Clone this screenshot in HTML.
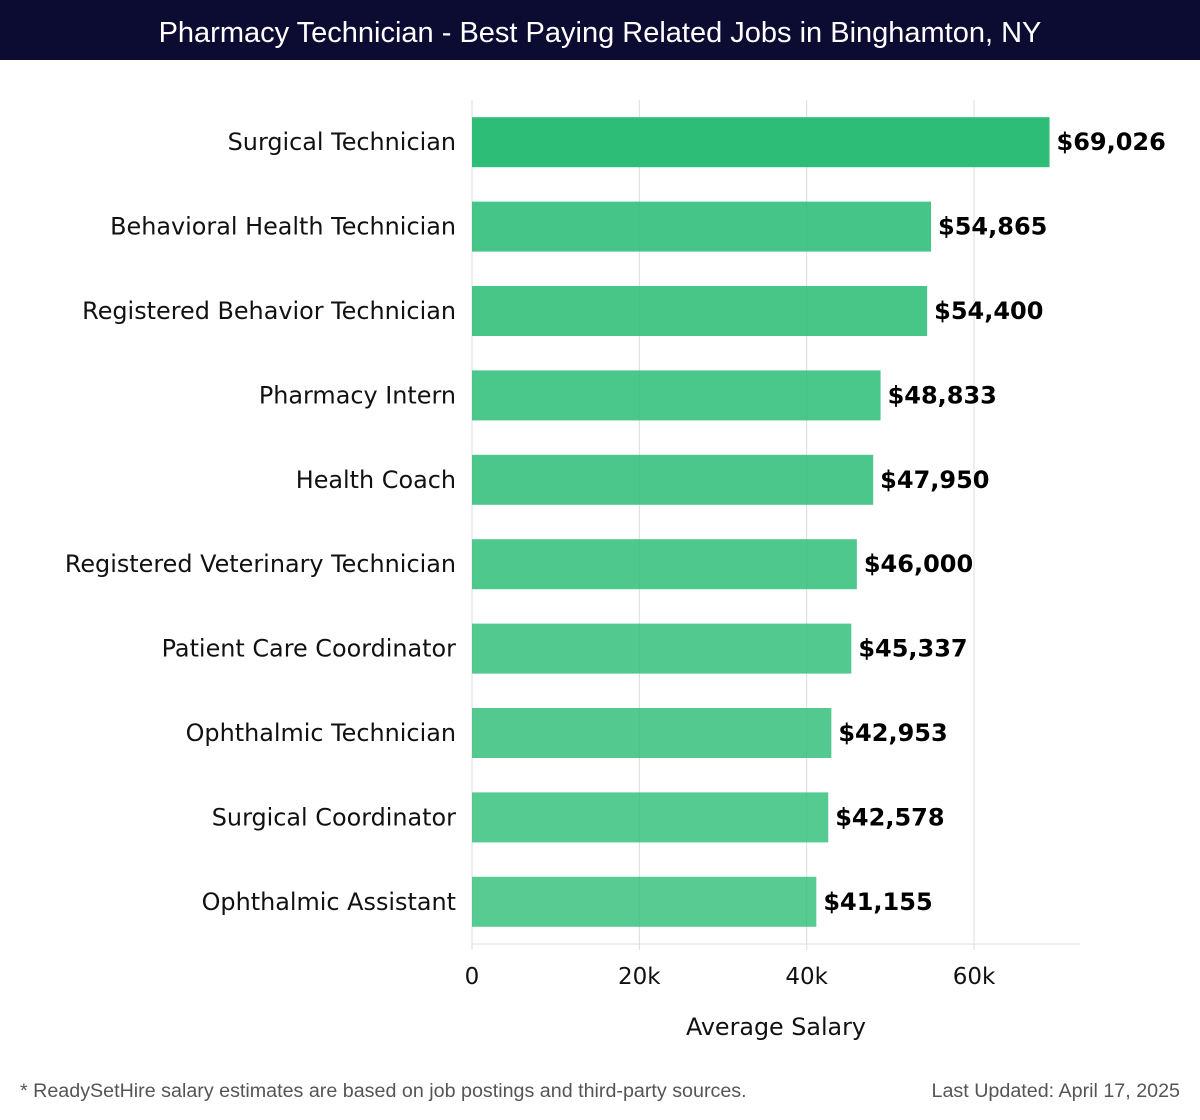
<!DOCTYPE html>
<html><head><meta charset="utf-8"><style>
body{margin:0;width:1200px;height:1120px;background:#fff;font-family:"DejaVu Sans","Liberation Sans",sans-serif;overflow:hidden}
#title{position:absolute;left:0;top:0;width:1200px;height:60px;background:#0c0c33;color:#fff;font-size:29px;line-height:66px;text-align:center;font-family:"Liberation Sans",sans-serif}
.foot{position:absolute;top:1080px;font-size:19.7px;color:#555;font-family:"Liberation Sans",sans-serif}
</style></head><body>
<div id="title">Pharmacy Technician - Best Paying Related Jobs in Binghamton, NY</div>
<svg id="chart" width="1200" height="1120" style="position:absolute;left:0;top:0"></svg>
<div class="foot" style="left:20px">* ReadySetHire salary estimates are based on job postings and third-party sources.</div>
<div class="foot" style="right:20px">Last Updated: April 17, 2025</div>
<script>
const categories=["Surgical Technician","Behavioral Health Technician","Registered Behavior Technician","Pharmacy Intern","Health Coach","Registered Veterinary Technician","Patient Care Coordinator","Ophthalmic Technician","Surgical Coordinator","Ophthalmic Assistant"];
const salaries=[69026,54865,54400,48833,47950,46000,45337,42953,42578,41155];
const ticks=[0,20000,40000,60000];
const tickLabels=["0","20k","40k","60k"];
const NS="http://www.w3.org/2000/svg";
const svg=document.getElementById('chart');
const x0=472,pxPer=(974-472)/60000,top0=100,axisY=944,xEnd=1080;
const xs=v=>x0+v*pxPer;
const step=(axisY-top0)/categories.length;
const yc=i=>top0+step*(i+0.5);
function mk(t,a){const e=document.createElementNS(NS,t);for(const k in a)e.setAttribute(k,a[k]);svg.appendChild(e);return e;}
ticks.forEach((t,i)=>{
 const g=mk('line',{x1:xs(t),x2:xs(t),y1:top0,y2:axisY+6,stroke:'#dcdcdc','stroke-width':1});
 
 
 const l=mk('text',{x:xs(t),y:984,'text-anchor':'middle','font-size':23,fill:'#111'});
 l.textContent=tickLabels[i];
 
 
});
const ax=mk('line',{x1:x0,x2:xEnd,y1:axisY,y2:axisY,stroke:'#dcdcdc'});


const at=mk('text',{x:776,y:1035,'text-anchor':'middle','font-size':23.8,fill:'#111'});
at.textContent='Average Salary';


categories.forEach((c,i)=>{
 const y=yc(i);
 const b=mk('rect',{x:x0,y:y-25,width:xs(salaries[i])-x0,height:50,fill:i==0?'#2dbd77':'rgba(46,190,120,'+(0.9-0.1*i/9)+')'});
 
 
 const l=mk('text',{x:456,y:y+8,'text-anchor':'end','font-size':23.9,fill:'#111'});
 l.textContent=c;
 
 
 const v=mk('text',{x:xs(salaries[i])+7,y:y+8,'font-size':24,'font-weight':'bold',fill:'#000'});
 v.textContent='$'+salaries[i].toLocaleString('en-US');
 
 
});
</script>
</body></html>
